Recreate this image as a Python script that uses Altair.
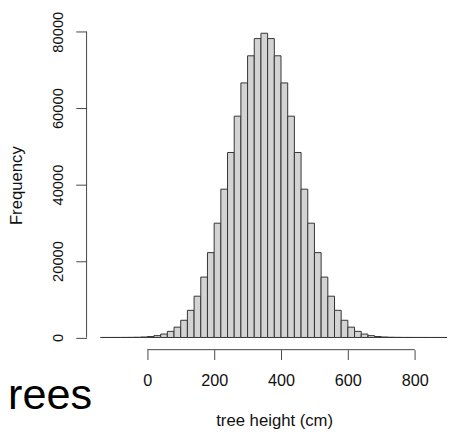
import altair as alt
import pandas as pd

# histogram breaks (cm) and counts
breaks = [-140, -120, -100, -80, -60, -40, -20, 0, 20, 40, 60, 80, 100, 120,
          140, 160, 180, 200, 220, 240, 260, 280, 300, 320, 340, 360, 380,
          400, 420, 440, 460, 480, 500, 520, 540, 560, 580, 600, 620, 640,
          660, 680, 700, 720, 740, 760, 780, 800, 820, 840, 860, 880, 900]
counts = [1, 2, 5, 12, 27, 58, 120, 250, 480, 890, 1600, 2700, 4500, 7100,
          10800, 15800, 22200, 29900, 38800, 48400, 57900, 66600, 73700, 78200,
          79600, 78200, 73700, 66600, 57900, 48400, 38800, 29900, 22200, 15800,
          10800, 7100, 4500, 2700, 1600, 890, 480, 250, 120, 58, 27, 12, 5, 2,
          1, 0, 0, 0]
x_ticks = [0, 200, 400, 600, 800]
y_ticks = [0, 20000, 40000, 60000, 80000]
x_title = "tree height (cm)"
y_title = "Frequency"
side_text = "rees"

W, H = 367, 335
FONT = "Liberation Sans"
AX = "#444444"

df = pd.DataFrame({"start": breaks[:-1], "end": breaks[1:], "count": counts})

xscale = alt.Scale(domain=[-181.6, 896.5], nice=False, zero=False)
yscale = alt.Scale(domain=[-3190, 82890], nice=False, zero=False)

xaxis = alt.Axis(values=x_ticks, format="d", domain=False, grid=False,
                 tickSize=10, tickColor=AX, tickWidth=1,
                 labelFont=FONT, labelFontSize=16.5, labelColor="#111111",
                 labelBaseline="alphabetic", labelPadding=27,
                 labelFlush=False, labelOverlap=False,
                 title=x_title, titleFont=FONT, titleFontSize=17,
                 titleFontWeight="normal", titleColor="#111111",
                 titleX=191, titleY=77, titleAlign="center",
                 titleBaseline="alphabetic")
yaxis = alt.Axis(values=y_ticks, format="d", domain=False, grid=False,
                 tickSize=11, tickColor=AX, tickWidth=1,
                 labelFont=FONT, labelFontSize=15, labelColor="#111111",
                 labelAngle=270, labelAlign="center",
                 labelBaseline="alphabetic", labelPadding=13,
                 labelFlush=False, labelOverlap=False,
                 title=y_title, titleFont=FONT, titleFontSize=17,
                 titleFontWeight="normal", titleColor="#111111",
                 titleAngle=270, titleX=-66, titleY=167.5,
                 titleAlign="center", titleBaseline="alphabetic")

bars = alt.Chart(df).mark_rect(fill="#d3d3d3", stroke="#333333",
                               strokeWidth=1).encode(
    x=alt.X("start:Q", scale=xscale, axis=xaxis),
    x2="end:Q",
    y=alt.Y("count:Q", scale=yscale, axis=yaxis),
    y2=alt.datum(0),
)

xline = alt.Chart(pd.DataFrame({"a": [x_ticks[0]], "b": [x_ticks[-1]]})).mark_rule(
    color=AX, strokeWidth=1).encode(
    x=alt.X("a:Q", scale=xscale, axis=xaxis),
    x2="b:Q",
    y=alt.value(H),
)

yline = alt.Chart(pd.DataFrame({"a": [y_ticks[0]], "b": [y_ticks[-1]]})).mark_rule(
    color=AX, strokeWidth=1).encode(
    y=alt.Y("a:Q", scale=yscale, axis=yaxis),
    y2="b:Q",
    x=alt.value(0),
)

label = alt.Chart(pd.DataFrame({"t": [side_text]})).mark_text(
    align="left", baseline="alphabetic", fontSize=44, font=FONT,
    color="black").encode(
    text="t:N",
    x=alt.value(-80),
    y=alt.value(395),
)

chart = alt.layer(bars, xline, yline, label).properties(
    width=W, height=H,
    autosize=alt.AutoSizeParams(type="none"),
    padding={"left": 80, "top": 9, "right": 0, "bottom": 83},
    background="white",
).configure_view(stroke=None)

chart.save("out.html", embed_options={"renderer": "svg", "actions": False})
